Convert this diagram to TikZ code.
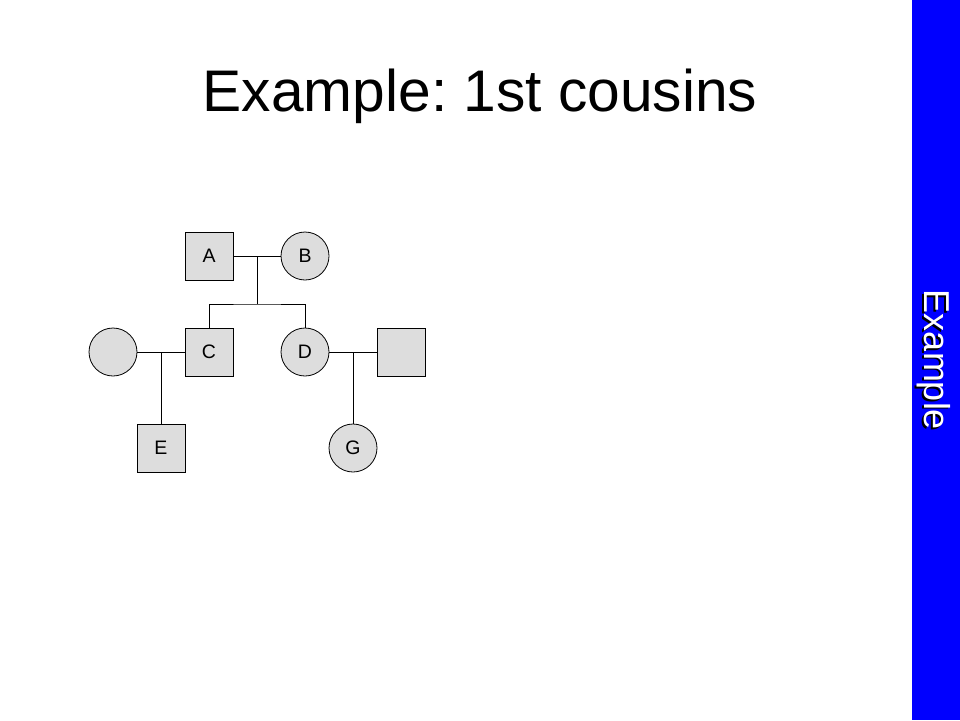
\documentclass[tikz,border=0pt]{standalone}
\usepackage{fontspec}
\setmainfont{Liberation Sans}
\usetikzlibrary{positioning}
\definecolor{sidebarblue}{RGB}{0,0,255}
\definecolor{personfill}{RGB}{221,221,221}
\frenchspacing
\tikzset{
  x=1pt, y=-1pt,
  node distance=48pt,
  male/.style={draw, rectangle, fill=personfill, line width=0.8pt, minimum size=48pt, inner sep=0pt, outer sep=0pt, font=\fontsize{19.5pt}{22pt}\selectfont},
  female/.style={male, circle},
  rel/.style={line width=0.9pt, black},
  sidetext/.style={rotate=-90, anchor=base, font=\fontsize{36pt}{40pt}\selectfont}
}

\begin{document}
\begin{tikzpicture}
  \useasboundingbox (0,0) rectangle (960,720);

  % title and side bar
  \node[anchor=base, font=\fontsize{58.7pt}{70pt}\selectfont] (title) at (480,111) {Example: 1st cousins};
  \fill[sidebarblue] (912,0) rectangle (960,720);
  \node[sidetext, black] (sideshadow) at (922.5,361.5) {Example};
  \node[sidetext, white] (side) at (924,360) {Example};

  % grandparents
  \node[male] (A) at (209,256) {A};
  \node[female, right=of A] (B) {B};

  % parents and their spouses
  \node[male, below=of A] (C) {C};
  \node[female, below=of B] (D) {D};
  \node[female, left=of C] (Cw) {};
  \node[male, right=of D] (Dh) {};

  % mating points
  \path (A) -- (B) coordinate[midway] (ab);
  \path (Cw) -- (C) coordinate[midway] (cw);
  \path (D) -- (Dh) coordinate[midway] (dh);

  % cousins
  \node[male, below=72pt of cw, anchor=north] (E) {E};
  \node[female, below=72pt of dh, anchor=north] (G) {G};

  % lines
  \draw[rel] (A) -- (B);
  \draw[rel] (ab) -- ++(0,48) coordinate (sib);
  \draw[rel] (C.north) |- (sib) -| (D.north);
  \draw[rel] (Cw) -- (C);
  \draw[rel] (D) -- (Dh);
  \draw[rel] (cw) -- (E);
  \draw[rel] (dh) -- (G);
\end{tikzpicture}
\end{document}
